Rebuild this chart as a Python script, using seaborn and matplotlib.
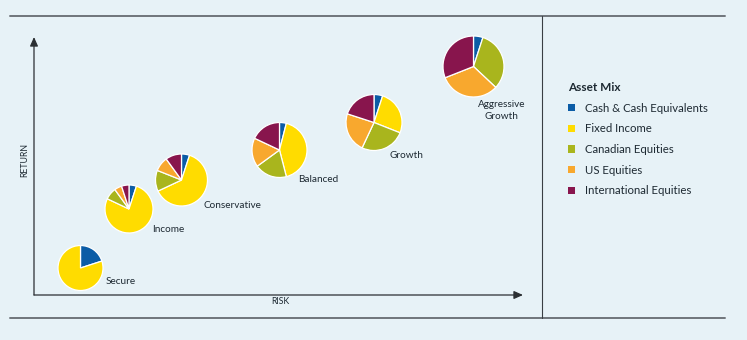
import matplotlib
matplotlib.use("Agg")
import matplotlib.pyplot as plt
from matplotlib.lines import Line2D
from matplotlib.patches import Patch
import seaborn as sns

# ---------------- data ----------------
profiles = ["Secure", "Income", "Conservative", "Balanced", "Growth", "Aggressive\nGrowth"]
risk = [46.5, 95, 147.5, 245.5, 340, 439.5]        # position along RISK axis
ret = [27, 86, 115, 145, 172.5, 228.5]              # position along RETURN axis
pie_size = [22.5, 24, 26, 27.5, 28, 30.5]

assets = ["Cash & Cash Equivalents", "Fixed Income", "Canadian Equities",
          "US Equities", "International Equities"]
cash = [20, 5, 5, 4, 5, 5]
fixed_income = [80, 77, 63, 42, 26, 0]
canadian = [0, 8, 13, 19, 26, 32]
us_eq = [0, 5, 9, 17, 23, 32]
intl_eq = [0, 5, 10, 18, 20, 31]

# ---------------- style ----------------
BG = "#e7f2f7"
colors = ["#0b5ca6", "#ffdc00", "#a9b51d", "#f8a82e", "#88154d"]
sns.set_theme(style="white", rc={"figure.facecolor": BG, "axes.facecolor": BG,
                                 "savefig.facecolor": BG})
plt.rcParams["font.family"] = ["Lato", "DejaVu Sans"]
TXT = "#1e2a33"

W, H = 747, 340
fig = plt.figure(figsize=(W / 100, H / 100), dpi=100)

# axes region in pixels
x0, x1, y0, y1 = 34, 523, 37, 295
ax = fig.add_axes([x0 / W, 1 - y1 / H, (x1 - x0) / W, (y1 - y0) / H])
ax.set_facecolor(BG)

mix = list(zip(cash, fixed_income, canadian, us_eq, intl_eq))
label_offsets = [(25, -13), (23, -21), (22, -25), (19, -29), (16, -32.5), (28, -44)]
for i, name in enumerate(profiles):
    vals = [v for v in mix[i] if v > 0]
    cols = [c for v, c in zip(mix[i], colors) if v > 0]
    ax.pie(vals, colors=cols, startangle=90, counterclock=False,
           center=(risk[i], ret[i]), radius=pie_size[i], frame=True,
           wedgeprops=dict(edgecolor="white", linewidth=0.9))
    dx, dy = label_offsets[i]
    ha = "center" if "\n" in name else "left"
    ax.annotate(name, xy=(risk[i], ret[i]), xytext=(dx * 0.72, dy * 0.72),
                textcoords="offset points", ha=ha, va="center",
                fontsize=7.2, color=TXT, linespacing=1.3)

ax.set_xlim(0, x1 - x0)
ax.set_ylim(0, y1 - y0)
ax.set_aspect("equal", adjustable="box")
ax.set_xticks([])
ax.set_yticks([])
for s in ax.spines.values():
    s.set_visible(False)

# arrows for axes
arrow_kw = dict(arrowstyle="-|>,head_length=0.45,head_width=0.2", color="#2b2f33", lw=0.9,
                shrinkA=0, shrinkB=0)
ax.annotate("", xy=(0, 1), xytext=(0, 0), xycoords="axes fraction",
            arrowprops=arrow_kw, annotation_clip=False)
ax.annotate("", xy=(1, 0), xytext=(0, 0), xycoords="axes fraction",
            arrowprops=arrow_kw, annotation_clip=False)
fig.text(25 / W, 1 - 160 / H, "RETURN", rotation=90, ha="center", va="center",
         fontsize=6.3, color=TXT)
fig.text(280 / W, 1 - 302 / H, "RISK", ha="center", va="center",
         fontsize=6.3, color=TXT)

# frame lines
fig.add_artist(Line2D([10 / W, 725 / W], [1 - 15.5 / H] * 2, color="#6f757b", lw=1.4,
                      transform=fig.transFigure))
fig.add_artist(Line2D([10 / W, 725 / W], [1 - 318 / H] * 2, color="#6f757b", lw=1.4,
                      transform=fig.transFigure))
fig.add_artist(Line2D([542 / W] * 2, [1 - 16 / H, 1 - 318 / H], color="#3a3f44", lw=0.8,
                      transform=fig.transFigure))

# legend
handles = [Patch(facecolor=c, edgecolor="none") for c in colors]
leg = fig.legend(handles, assets, loc="upper left", bbox_to_anchor=(568 / W, 1 - 82 / H),
                 frameon=False, fontsize=8.2, title="Asset Mix", alignment="left",
                 handlelength=0.62, handleheight=0.62, handletextpad=0.85,
                 labelspacing=0.85, borderaxespad=0, borderpad=0)
leg.get_title().set_fontweight("bold")
leg.get_title().set_fontsize(8.5)
leg.get_title().set_color(TXT)
for t in leg.get_texts():
    t.set_color(TXT)

fig.savefig("out.png", dpi=100, facecolor=BG)
